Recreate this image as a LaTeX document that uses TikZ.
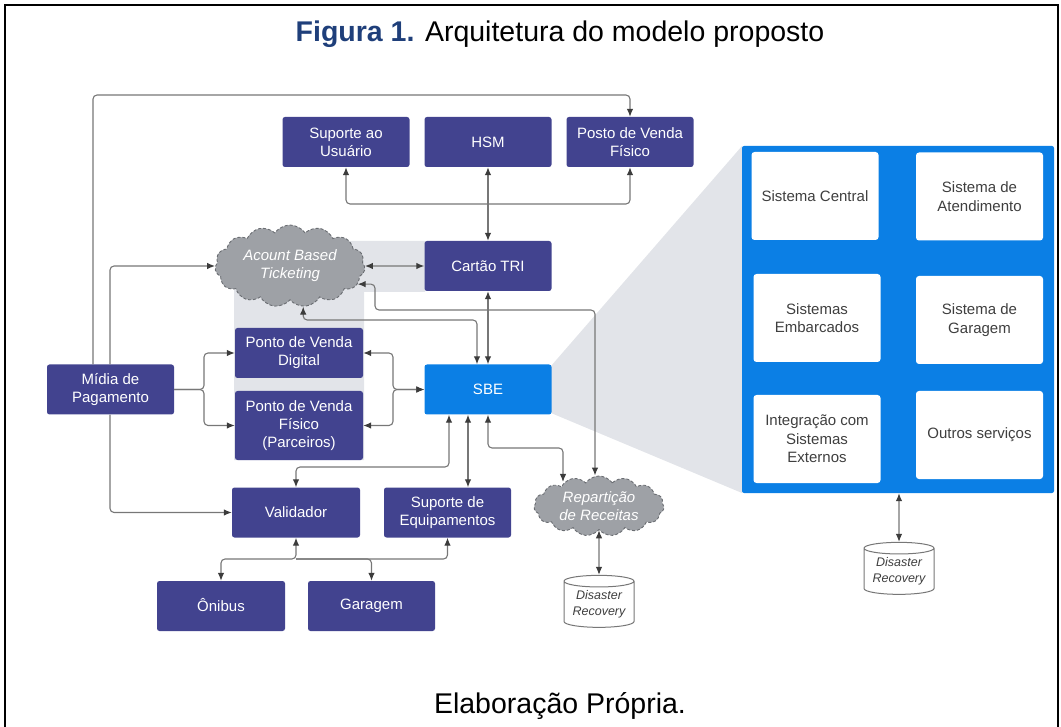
\documentclass[tikz,border=0pt]{standalone}
\usepackage{fontspec}
\setmainfont{Liberation Sans}
\usetikzlibrary{shapes.symbols,shapes.geometric,arrows.meta}
\definecolor{navy}{HTML}{42438F}
\definecolor{sbeblue}{HTML}{0B7FE5}
\definecolor{shadegrey}{HTML}{E2E4E9}
\definecolor{linegrey}{HTML}{777777}
\definecolor{tipgrey}{HTML}{3C3C3C}
\definecolor{cloudfill}{HTML}{9EA1A6}
\definecolor{cloudline}{HTML}{6A6D72}
\definecolor{titleblue}{HTML}{1F3F7A}
\definecolor{boxtext}{HTML}{3F3F3F}
\begin{document}
\begin{tikzpicture}[x=1pt,y=-1pt,
  dbox/.style={fill=navy, rounded corners=2.5pt, text=white, font=\fontsize{15}{18}\selectfont, align=center, inner sep=0pt, minimum width=127pt, minimum height=50pt},
  wbox/.style={fill=white, rounded corners=3pt, text=boxtext, font=\fontsize{15}{18.5}\selectfont, align=center, inner sep=0pt, minimum width=127pt, minimum height=88pt},
  conn/.style={draw=linegrey, line width=1.1pt, rounded corners=4pt},
  arr/.style={-{Latex[length=8pt,width=6.5pt,color=tipgrey]}},
  darr/.style={{Latex[length=8pt,width=6.5pt,color=tipgrey]}-{Latex[length=8pt,width=6.5pt,color=tipgrey]}},
  cloudn/.style={cloud, cloud puffs=15, cloud puff arc=110, cloud ignores aspect, fill=cloudfill, draw=cloudline, dash pattern=on 3pt off 2pt, line width=0.9pt, text=white, font=\itshape\fontsize{15}{18}\selectfont, align=center, inner sep=0pt},
  dbn/.style={cylinder, shape border rotate=90, aspect=0.22, draw=linegrey, line width=1pt, fill=white, text=boxtext, font=\itshape\fontsize{12.5}{15.5}\selectfont, align=center, minimum width=70pt, minimum height=52pt, inner sep=0pt}
]
\useasboundingbox (0,0) rectangle (1061,727);
\draw[line width=2pt] (5,740) -- (5,5) -- (1058,5) -- (1058,740);

\node[font=\fontsize{28.5}{32}\selectfont] (title) at (560,34) {\textcolor{titleblue}{\textbf{Figura 1.}} Arquitetura do modelo proposto};
\node[font=\fontsize{28.5}{32}\selectfont] (foot) at (560,706) {Elaboração Própria.};

% shading
\fill[shadegrey] (234,241) -- (425,241) -- (425,292) -- (364,292) -- (364,460) -- (234,460) -- cycle;
\fill[shadegrey] (551,366) -- (742,146) -- (742,493) -- (551,413) -- cycle;

% nodes
\node[dbox] (sup) at (346,142) {Suporte ao\\Usuário};
\node[dbox] (hsm) at (488,142) {HSM};
\node[dbox] (posto) at (630,142) {Posto de Venda\\Físico};
\node[dbox] (cartao) at (488,266) {Cartão TRI};
\node[cloudn, minimum width=150pt, minimum height=82pt] (abt) at (290,266) {Acount Based\\Ticketing};
\node[dbox, minimum width=128pt] (pvd) at (299,353) {Ponto de Venda\\Digital};
\node[dbox, minimum width=128pt, minimum height=69pt] (pvf) at (299,425.5) {Ponto de Venda\\Físico\\(Parceiros)};
\node[dbox] (midia) at (110.5,389.5) {Mídia de\\Pagamento};
\node[dbox, fill=sbeblue] (sbe) at (488,389.5) {SBE};
\node[dbox, minimum width=128pt] (val) at (296,512.5) {Validador};
\node[dbox] (seq) at (447.5,512.5) {Suporte de\\Equipamentos};
\node[cloudn, minimum width=130pt, minimum height=60pt] (rep) at (599,506) {Repartição\\de Receitas};
\node[dbn] (dr1) at (599,604.5) {Disaster\\Recovery};
\node[dbox, minimum width=128pt] (oni) at (221,606) {\smash{Ô}nibus};
\node[dbox] (gar) at (371.5,606) {Garagem};

\node[fill=sbeblue, rounded corners=2pt, minimum width=312pt, minimum height=347pt, inner sep=0pt] (panel) at (898,319.5) {};
\node[wbox] (w1) at (815,196) {Sistema Central};
\node[wbox] (w2) at (979.5,196.5) {Sistema de\\Atendimento};
\node[wbox] (w3) at (817,318) {Sistemas\\Embarcados};
\node[wbox] (w4) at (979.5,320) {Sistema de\\Garagem};
\node[wbox] (w5) at (817,439) {Integração com\\Sistemas\\Externos};
\node[wbox] (w6) at (979.5,435) {Outros serviços};
\node[dbn] (dr2) at (899,571.5) {Disaster\\Recovery};

% helper coordinates
\coordinate (t1) at (93,95);
\coordinate (t2) at (110,264);
\coordinate (j1) at (204,389.5);
\coordinate (j2) at (393,389.5);
\coordinate (b1) at (488,204);
\coordinate (r1) at (375,310);
\coordinate (r2) at (595,310);
\coordinate (a2) at (477,320);
\coordinate (v1) at (449,467);
\coordinate (s1) at (468,467);
\coordinate (p2) at (563,448);
\coordinate (g1) at (296,559);

% connectors
\draw[conn,arr] (midia.north -| t1) -- (t1) -| (posto.north);
\draw[conn,arr] (midia.north -| t2) |- (abt.west);
\draw[conn,arr] (midia.south -| t2) |- (val.west);
\draw[conn,arr] (midia.east) -- (j1) |- (pvd.west);
\draw[conn,arr] (midia.east) -- (j1) |- (pvf.west);
\draw[conn,darr] (pvd.east) -| (j2) -- (sbe.west);
\draw[conn,darr] (pvf.east) -| (j2) -- (sbe.west);
\draw[conn,darr] (hsm.south) -- (cartao.north);
\draw[conn,arr] (b1) -| (sup.south);
\draw[conn,arr] (b1) -| (posto.south);
\draw[conn,darr] (abt.east) -- (cartao.west);
\draw[conn,darr] (cartao.south) -- (sbe.north);
\draw[conn,darr] (abt.-15) -| (r1) -- (r2) -- (r2 |- rep.north);
\draw[conn,darr] (abt.-72) |- (a2) -- (sbe.north -| a2);
\draw[conn,darr] (sbe.south -| v1) -- (v1) -| (val.north);
\draw[conn,darr] (sbe.south -| s1) -- (seq.north -| s1);
\draw[conn,darr] (sbe.south) |- (p2) -- (p2 |- rep.145);
\draw[conn,darr] (rep.south) -- (dr1.north);
\draw[conn,darr] (val.south) -- (g1) -| (oni.north);
\draw[conn,arr] (g1) -| (gar.north);
\draw[conn,arr] (g1) -| (seq.south);
\draw[conn,darr] (panel.south -| dr2) -- (dr2.north);
\end{tikzpicture}
\end{document}
